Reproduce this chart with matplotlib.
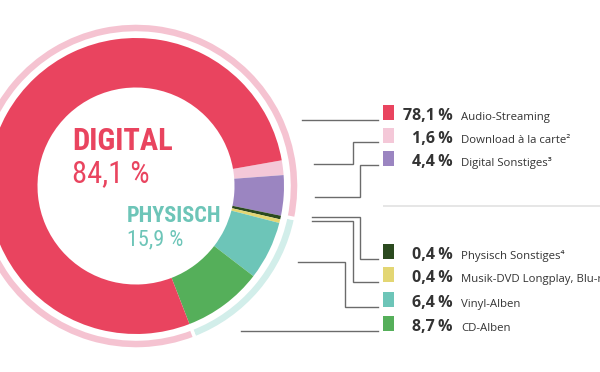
# -*- coding: utf-8 -*-
"""Chart: Musikmarkt-Umsatzanteile digital vs physisch (Donut)"""
import matplotlib
matplotlib.use('Agg')
import matplotlib.pyplot as plt
from matplotlib.patches import Rectangle

# ── Data ──
labels = ['Download à la carte²', 'Digital Sonstiges³', 'Physisch Sonstiges⁴',
          'Musik-DVD Longplay, Blu-ray', 'Vinyl-Alben', 'CD-Alben', 'Audio-Streaming']
shares = [1.6, 4.4, 0.4, 0.4, 6.4, 8.7, 78.1]
colors = ['#F4C8D8', '#9B85C1', '#2B4A1F', '#E3D673', '#6DC5B8', '#55AF5A', '#E9445F']

groups = ['PHYSISCH', 'DIGITAL']
group_shares = [15.9, 84.1]
group_colors = ['#D2EEEA', '#F5C3D1']

legend_order = ['Audio-Streaming', 'Download à la carte²', 'Digital Sonstiges³',
                'Physisch Sonstiges⁴', 'Musik-DVD Longplay, Blu-ray', 'Vinyl-Alben', 'CD-Alben']

# ── Fonts ──
cond = ['Roboto Condensed', 'DejaVu Sans']
sans = ['Open Sans', 'DejaVu Sans']

W, H = 600, 372
fig = plt.figure(figsize=(6, 3.72), dpi=100)
ax = fig.add_axes([0, 0, 1, 1])

def py(y):  # pixel y (top-down) -> data y
    return H - y

cx, cy = 136, py(186)

# inner ring
ax.pie(shares, colors=colors, startangle=10, counterclock=False,
       center=(cx, cy), radius=148,
       wedgeprops=dict(width=49.5, linewidth=0))
# outer thin ring: starts after pink + purple
start_outer = 10 - (shares[0] + shares[1]) * 3.6
ax.pie(group_shares, colors=group_colors, startangle=start_outer, counterclock=False,
       center=(cx, cy), radius=163,
       wedgeprops=dict(width=10, linewidth=2.5, edgecolor='white'))

ax.set_xlim(0, W)
ax.set_ylim(0, H)
ax.set_aspect('equal')
ax.axis('off')

# ── Center labels ──
ax.text(72, py(150), 'DIGITAL', fontsize=22, fontweight='bold', family=cond,
        color='#E9445F', ha='left', va='baseline')
ax.text(72, py(182), '84,1 %', fontsize=22, family=cond,
        color='#E9445F', ha='left', va='baseline')
ax.text(127, py(222), 'PHYSISCH', fontsize=16, fontweight='bold', family=cond,
        color='#6DC5B8', ha='left', va='baseline')
ax.text(127, py(245), '15,9 %', fontsize=16, family=cond,
        color='#6DC5B8', ha='left', va='baseline')

# ── Legend ──
row_bottom = [120, 143, 166, 259, 282, 307, 331]
for lab, yb in zip(legend_order, row_bottom):
    i = labels.index(lab)
    ax.add_patch(Rectangle((383, py(yb)), 11, 15, facecolor=colors[i],
                           edgecolor='none', clip_on=False))
    ax.text(453, py(yb), f'{shares[i]:.1f}'.replace('.', ',') + '\u2009%',
            fontsize=11.5, fontweight='bold', family=sans, color='#333333',
            ha='right', va='baseline')
    ax.text(461, py(yb), lab, fontsize=8.2, family=sans, color='#333333',
            ha='left', va='baseline', clip_on=True)

# separator
ax.plot([383, W], [py(206), py(206)], color='#E2E2E2', lw=1.2, solid_capstyle='butt')

# ── Leader lines (pixel coords) ──
leaders = [
    [(302, 120), (378, 120)],
    [(314, 164), (353, 164), (353, 142), (378, 142)],
    [(315, 197), (360, 197), (360, 165), (378, 165)],
    [(312, 217), (360, 217), (360, 259), (378, 259)],
    [(312, 221), (353, 221), (353, 282), (378, 282)],
    [(298, 262), (345, 262), (345, 307), (378, 307)],
    [(241, 331), (378, 331)],
]
for pts in leaders:
    xs = [p[0] for p in pts]
    ys = [py(p[1]) for p in pts]
    ax.plot(xs, ys, color='#6B6B6B', lw=1.0, solid_joinstyle='miter')

fig.savefig('out.png', dpi=100, facecolor='white')
plt.close()
